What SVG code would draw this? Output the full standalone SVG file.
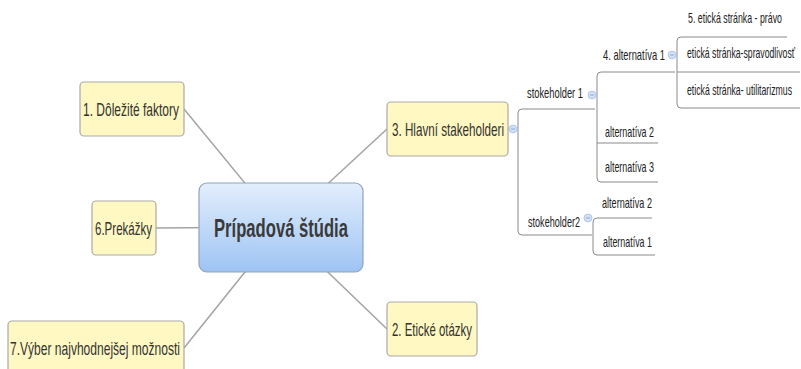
<svg xmlns="http://www.w3.org/2000/svg" width="801" height="369" viewBox="0 0 801 369">
<style>
.box{fill:#fff8c2;stroke:#a9a9a9;stroke-width:1.2}
.t{font-family:"Liberation Sans",Arial,sans-serif;fill:#333;font-size:18px}
.s{font-family:"Liberation Sans",Arial,sans-serif;fill:#222;font-size:14px}
.c{font-family:"Liberation Sans",Arial,sans-serif;fill:#3a3a3a;font-size:26px;font-weight:bold}
.ln{stroke:#a4a4a4;stroke-width:1.5;fill:none}
.tr{stroke:#8a8a8a;stroke-width:1;fill:none}
.knob{fill:#cfe0f7;stroke:#a9c3ea;stroke-width:0.8}
.minus{stroke:#7f9fd0;stroke-width:0.8}
</style>
<defs>
<linearGradient id="cg" x1="0" y1="0" x2="0" y2="1">
<stop offset="0" stop-color="#e3eefc"/>
<stop offset="1" stop-color="#9ec4f4"/>
</linearGradient>
</defs>
<g id="connectors">
<line class="ln" x1="281" y1="227" x2="184" y2="109"/>
<line class="ln" x1="281" y1="227" x2="156" y2="228"/>
<line class="ln" x1="281" y1="227" x2="184" y2="348"/>
<line class="ln" x1="281" y1="227" x2="387" y2="129"/>
<line class="ln" x1="281" y1="227" x2="387" y2="329"/>
<line x1="508" y1="129" x2="513" y2="129" stroke="#9bb8e0" stroke-width="1" stroke-dasharray="2,1"/>
<path class="tr" d="M595 109H522Q518 109 518 113V231Q518 235 522 235H592"/>
<path class="tr" d="M675 72H601Q597 72 597 76V178Q597 182 601 182H658M597 143H658"/>
<path class="tr" d="M787 37H681Q677 37 677 41V104Q677 108 681 108H800M677 72H800"/>
<path class="tr" d="M652 218H597Q593 218 593 222V251Q593 255 597 255H655"/>
</g>
<g id="central">
<rect x="199" y="183" width="164" height="89" rx="8" fill="url(#cg)" stroke="#8fa3bd" stroke-width="1.2"/>
<text class="c" transform="translate(214,237) scale(0.6,1)" textLength="223.3" lengthAdjust="spacingAndGlyphs">Prípadová štúdia</text>
</g>
<g id="n1">
<rect class="box" x="80" y="82" width="104" height="54" rx="4"/>
<text class="t" transform="translate(83,116) scale(0.72,1)" textLength="133.3" lengthAdjust="spacingAndGlyphs">1. Dôležité faktory</text>
</g>
<g id="n6">
<rect class="box" x="92" y="201" width="64" height="54" rx="4"/>
<text class="t" transform="translate(95,235) scale(0.72,1)" textLength="79.2" lengthAdjust="spacingAndGlyphs">6.Prekážky</text>
</g>
<g id="n7">
<rect class="box" x="8" y="321" width="176" height="54" rx="4"/>
<text class="t" transform="translate(10,355) scale(0.72,1)" textLength="236.1" lengthAdjust="spacingAndGlyphs">7.Výber najvhodnejšej možnosti</text>
</g>
<g id="n3">
<rect class="box" x="387" y="102" width="121" height="54" rx="4"/>
<text class="t" transform="translate(392,136) scale(0.72,1)" textLength="155.6" lengthAdjust="spacingAndGlyphs">3. Hlavní stakeholderi</text>
<circle class="knob" cx="513" cy="129" r="4"/><line class="minus" x1="511" y1="129" x2="515" y2="129"/>
</g>
<g id="n2">
<rect class="box" x="387" y="302" width="90" height="54" rx="4"/>
<text class="t" transform="translate(392,336) scale(0.72,1)" textLength="111.1" lengthAdjust="spacingAndGlyphs">2. Etické otázky</text>
</g>
<g id="stokeholder1">
<text class="s" transform="translate(527,98) scale(0.7,1)" textLength="80" lengthAdjust="spacingAndGlyphs">stokeholder 1</text>
<circle class="knob" cx="592" cy="95" r="4"/><line class="minus" x1="590" y1="95" x2="594" y2="95"/>
</g>
<g id="alt1">
<text class="s" transform="translate(603,60) scale(0.7,1)" textLength="88.6" lengthAdjust="spacingAndGlyphs">4. alternatíva 1</text>
<circle class="knob" cx="672" cy="55" r="4"/><line class="minus" x1="670" y1="55" x2="674" y2="55"/>
</g>
<g id="pravo">
<text class="s" transform="translate(688,23) scale(0.7,1)" textLength="134.3" lengthAdjust="spacingAndGlyphs">5. etická stránka - právo</text>
</g>
<g id="spravodlivost">
<text class="s" transform="translate(687,58) scale(0.6,1)" textLength="180" lengthAdjust="spacingAndGlyphs">etická stránka-spravodlivosť</text>
</g>
<g id="utilitarizmus">
<text class="s" transform="translate(687,95) scale(0.6,1)" textLength="175" lengthAdjust="spacingAndGlyphs">etická stránka- utilitarizmus</text>
</g>
<g id="alt2">
<text class="s" transform="translate(605,137) scale(0.7,1)" textLength="70" lengthAdjust="spacingAndGlyphs">alternatíva 2</text>
</g>
<g id="alt3">
<text class="s" transform="translate(605,172) scale(0.7,1)" textLength="70" lengthAdjust="spacingAndGlyphs">alternatíva 3</text>
</g>
<g id="stokeholder2">
<text class="s" transform="translate(528,227) scale(0.7,1)" textLength="74.3" lengthAdjust="spacingAndGlyphs">stokeholder2</text>
<circle class="knob" cx="588" cy="218" r="4"/><line class="minus" x1="586" y1="218" x2="590" y2="218"/>
</g>
<g id="s2alt2">
<text class="s" transform="translate(602,208) scale(0.7,1)" textLength="71.4" lengthAdjust="spacingAndGlyphs">alternatíva 2</text>
</g>
<g id="s2alt1">
<text class="s" transform="translate(603,247) scale(0.7,1)" textLength="70" lengthAdjust="spacingAndGlyphs">alternatíva 1</text>
</g>
</svg>
